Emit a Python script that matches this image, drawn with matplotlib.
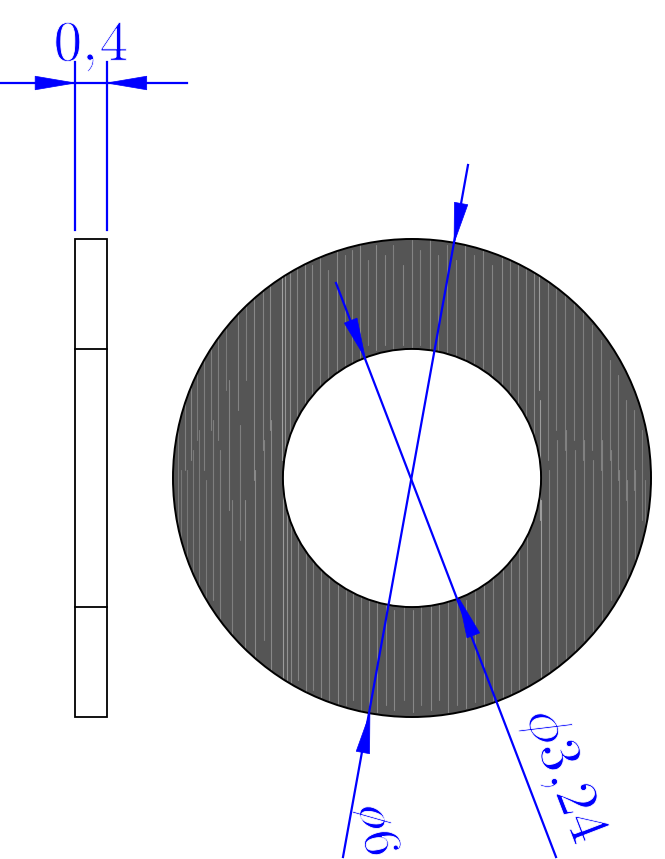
import numpy as np
import matplotlib
matplotlib.use("Agg")
import matplotlib.pyplot as plt
import matplotlib.patheffects as pe
from matplotlib.patches import Circle, Rectangle, Polygon, Wedge

plt.rcParams["mathtext.fontset"] = "cm"

# Dimensions of the part (mm)
outer_diameter = 6.0
inner_diameter = 3.24
thickness = 0.4
labels = [r"$\mathrm{0,\!4}$", r"$\phi\mathrm{3,\!24}$", r"$\o\mathrm{6}$"]

# Light streaks read from the washer face: column, top, bottom (image px) and strength
streak_x = [178, 181, 185, 187, 191, 193, 197, 199, 204, 206, 211, 213, 218, 220, 226, 229, 232,
            238, 240, 246, 245, 254, 255, 263, 264, 270, 271, 282, 283, 285, 287, 290, 291, 297, 298,
            305, 306, 312, 313, 320, 321, 328, 329, 337, 338, 345, 346, 352, 353, 360, 361,
            368, 369, 376, 377, 385, 386, 393, 394, 403, 404, 412, 413, 420, 421, 430, 431,
            438, 439, 447, 448, 456, 457, 465, 466, 474, 475, 483, 484, 492, 493, 502, 503,
            510, 511, 518, 519, 526, 527, 534, 539, 540, 541, 548, 549, 556, 557, 565, 566,
            574, 575, 583, 584, 592, 593, 601, 602, 610, 611, 618, 619, 626, 627, 634, 635, 642, 645]
streak_top = [430, 470, 390, 470, 380, 450, 340, 430, 330, 480, 320, 420, 300, 450, 290, 380, 500,
              280, 425, 270, 500, 260, 470, 270, 440, 250, 420, 250, 470, 260, 480, 255, 500, 265, 520,
              250, 440, 265, 480, 250, 420, 270, 470, 245, 450, 255, 530, 250, 460, 245, 530,
              260, 570, 245, 600, 255, 580, 245, 610, 265, 590, 240, 610, 250, 580, 240, 600,
              255, 590, 245, 560, 260, 540, 245, 600, 255, 500, 245, 470, 265, 530, 245, 440,
              255, 500, 260, 450, 265, 520, 270, 265, 400, 500, 270, 470, 285, 440, 290, 430,
              300, 450, 310, 440, 325, 460, 340, 440, 360, 450, 375, 470, 400, 480, 410, 470, 430, 480]
streak_bottom = [530, 560, 470, 585, 460, 600, 440, 590, 470, 620, 430, 600, 440, 640, 390, 510, 650,
                 410, 540, 380, 665, 480, 680, 450, 640, 430, 690, 460, 690, 470, 680, 450, 700, 470, 680,
                 430, 700, 470, 690, 420, 710, 460, 700, 440, 710, 410, 705, 450, 700, 420, 710,
                 345, 705, 350, 712, 345, 705, 350, 710, 345, 700, 348, 712, 345, 705, 350, 710,
                 350, 700, 380, 712, 400, 705, 360, 708, 420, 702, 440, 712, 400, 705, 460, 710,
                 420, 700, 470, 695, 430, 690, 480, 390, 520, 680, 460, 680, 430, 680, 450, 670,
                 440, 650, 460, 640, 450, 640, 470, 620, 460, 600, 480, 600, 500, 580, 490, 560, 520, 530]
streak_alpha = [.22, .2, .25, .2, .28, .22, .22, .22, .25, .22, .25, .25, .25, .25, .22, .28, .25,
                .28, .25, .25, .3, .3, .3, .28, .25, .3, .3, .45, .42, .38, .36, .32, .3, .28, .28,
                .3, .28, .28, .25, .28, .28, .26, .25, .3, .3, .25, .25, .28, .28, .3, .25,
                .25, .28, .3, .3, .28, .28, .25, .3, .28, .25, .28, .3, .25, .25, .3, .3,
                .25, .28, .25, .28, .28, .25, .3, .3, .25, .25, .28, .3, .28, .25, .3, .3,
                .25, .28, .3, .25, .28, .28, .3, .42, .42, .42, .25, .25, .25, .25, .25, .25,
                .25, .25, .25, .25, .25, .25, .25, .25, .25, .25, .25, .25, .25, .25, .25, .25, .22, .22]

BLUE = "#0000ff"
DARK = "#555555"
SCALE = 79.67          # px per mm
W, H = 665, 859
CX, CY = 412, 478      # washer centre, px
SIDE_L = 75            # px, left edge of the side view
LW = 1.6
THIN = [pe.Stroke(linewidth=0.6, foreground="white")]


def px(x, y):
    return (x - CX) / SCALE, (CY - y) / SCALE


fig = plt.figure(figsize=(W / 100, H / 100), dpi=100)
ax = fig.add_axes([0, 0, 1, 1])
ax.set_xlim(-CX / SCALE, (W - CX) / SCALE)
ax.set_ylim(-(H - CY) / SCALE, CY / SCALE)
ax.axis("off")

R = outer_diameter / 2
r = inner_diameter / 2

# Washer face
ring = Wedge((0, 0), R, 0, 360, width=R - r, facecolor=DARK, edgecolor="none", zorder=1)
ax.add_patch(ring)
for x, t, b, al in zip(streak_x, streak_top, streak_bottom, streak_alpha):
    x0, y0 = px(x, t)
    _, y1 = px(x, b)
    ln, = ax.plot([x0, x0], [y0, y1], color="white", lw=0.8, alpha=al, zorder=2,
                  solid_capstyle="round")
    ln.set_clip_path(ring)
ax.add_patch(Circle((0, 0), R, fill=False, ec="black", lw=1.4, zorder=3))
ax.add_patch(Circle((0, 0), r, fill=False, ec="black", lw=1.4, zorder=3))

# Side view
sx = (SIDE_L - CX) / SCALE
ax.add_patch(Rectangle((sx, -R), thickness, outer_diameter, fill=False, ec="black", lw=1.3, zorder=3))
for y in (r, -r):
    ax.plot([sx, sx + thickness], [y, y], color="black", lw=1.3, zorder=3)


def arrow(tip, direction, length=0.5, half=0.085):
    d = np.asarray(direction, float)
    d = d / np.hypot(*d)
    n = np.array([-d[1], d[0]])
    tip = np.asarray(tip, float)
    base = tip - d * length
    ax.add_patch(Polygon([tip, base + n * half, base - n * half], closed=True,
                         fc=BLUE, ec=BLUE, lw=0.5, zorder=5))


# Thickness dimension
_, ydim = px(0, 83)
_, ext_bottom = px(0, 230)
_, ext_top = px(0, 62)
for x in (sx, sx + thickness):
    ax.plot([x, x], [ext_bottom, ext_top], color=BLUE, lw=LW, zorder=4)
ax.plot([-CX / SCALE, px(187, 0)[0]], [ydim, ydim], color=BLUE, lw=LW, zorder=4)
arrow((sx, ydim), (1, 0))
arrow((sx + thickness, ydim), (-1, 0))
ax.text(*px(91, 46), labels[0], fontsize=41, color=BLUE, ha="center", va="center",
        zorder=3.5, path_effects=THIN)

# Outer diameter dimension
a1 = np.array(px(468, 165))
u1 = -a1 / np.hypot(*a1)
b1 = np.array(px(343, 857))
ax.plot([a1[0], b1[0]], [a1[1], b1[1]], color=BLUE, lw=LW, zorder=4)
arrow(-u1 * R, u1)
arrow(u1 * R, -u1)
ax.text(*px(378, 830), labels[2], fontsize=38, color=BLUE, rotation=-80,
        rotation_mode="anchor", ha="center", va="center", zorder=3.5, path_effects=THIN)

# Inner diameter dimension
a2 = np.array(px(336, 283))
u2 = -a2 / np.hypot(*a2)
b2 = np.array(px(556, 857))
ax.plot([a2[0], b2[0]], [a2[1], b2[1]], color=BLUE, lw=LW, zorder=4)
arrow(-u2 * r, u2)
arrow(u2 * r, -u2)
ax.text(*px(564, 776), labels[1], fontsize=42, color=BLUE, rotation=-69,
        rotation_mode="anchor", ha="center", va="center", zorder=3.5, path_effects=THIN)

fig.savefig("out.png", dpi=100)
